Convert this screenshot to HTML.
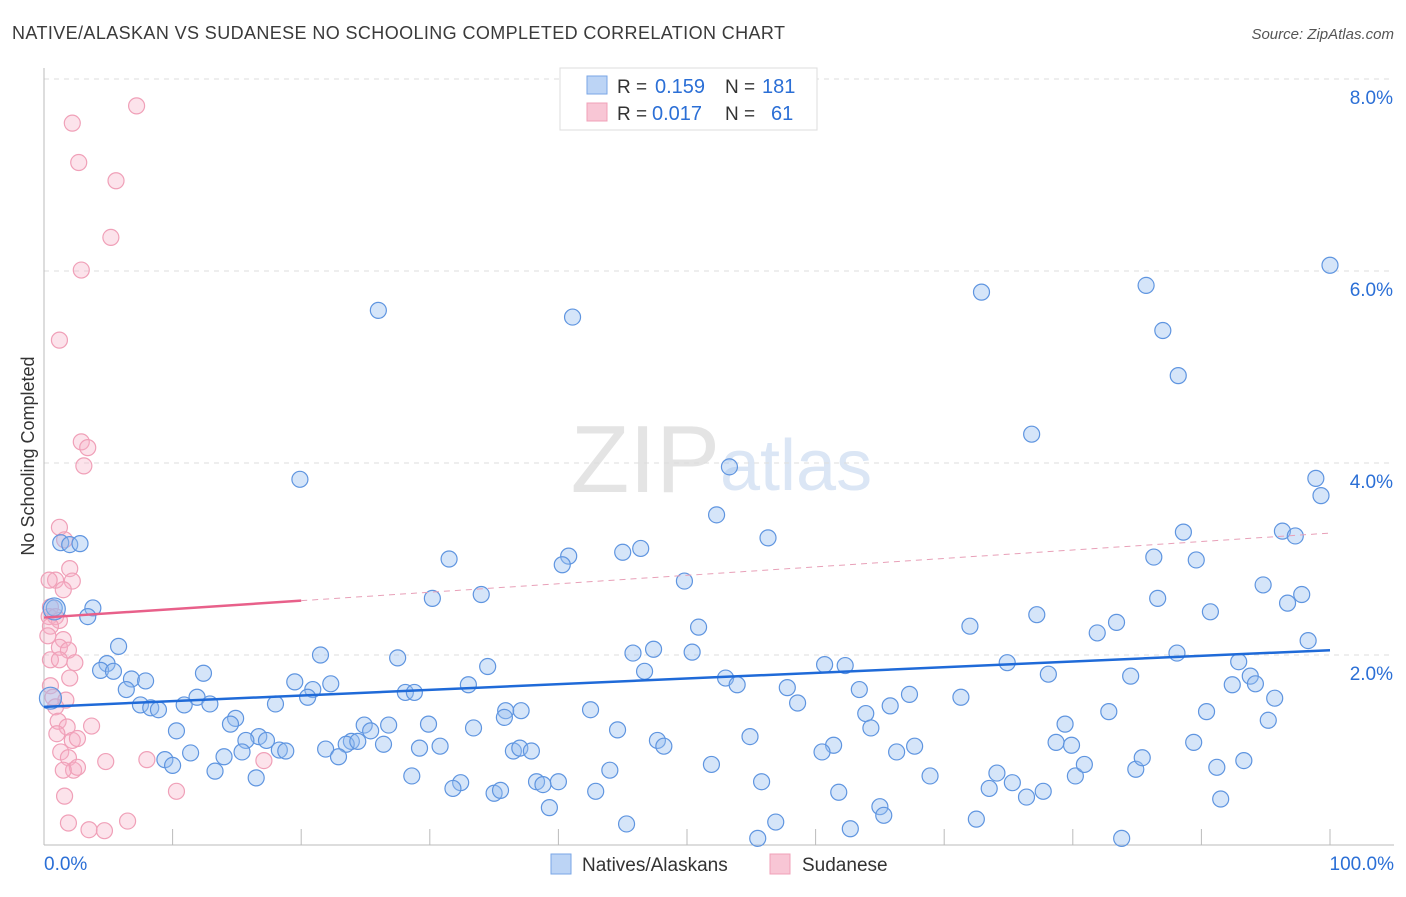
<!DOCTYPE html>
<html><head><meta charset="utf-8"><style>
body{margin:0;background:#fff;font-family:"Liberation Sans",sans-serif;}
svg text{font-family:"Liberation Sans",sans-serif;}
</style></head><body>
<svg id="chart" width="1406" height="892" xmlns="http://www.w3.org/2000/svg">
<text x="12" y="39" font-size="18" fill="#3a3a3a" textLength="773" lengthAdjust="spacing">NATIVE/ALASKAN VS SUDANESE NO SCHOOLING COMPLETED CORRELATION CHART</text>
<text x="1394" y="39" font-size="15" fill="#555" text-anchor="end" font-style="italic">Source: ZipAtlas.com</text>
<text x="720" y="492" font-size="96" fill="#e4e4e4" text-anchor="end" font-family="Liberation Serif">ZIP</text>
<text x="720" y="490" font-size="72" fill="#dbe6f5">atlas</text>
<text transform="translate(34,456) rotate(-90)" font-size="18" fill="#333" text-anchor="middle">No Schooling Completed</text>
<g id="grid"></g><g id="axes"></g><g id="marks"></g><g id="trends"></g>
<g>
<rect x="560" y="68" width="257" height="62" fill="#fff" stroke="#ddd"/>
<rect x="587" y="76" width="20" height="18" fill="#bcd4f5" stroke="#7aa6e6"/>
<rect x="587" y="103" width="20" height="18" fill="#f8c6d5" stroke="#f0a0b8"/>
<text x="617" y="93" font-size="19" fill="#333">R =</text>
<text x="655" y="93" font-size="20" fill="#2b6fd6">0.159</text>
<text x="725" y="93" font-size="19" fill="#333">N =</text>
<text x="762" y="93" font-size="20" fill="#2b6fd6">181</text>
<text x="617" y="120" font-size="19" fill="#333">R =</text>
<text x="652" y="120" font-size="20" fill="#2b6fd6">0.017</text>
<text x="725" y="120" font-size="19" fill="#333">N =</text>
<text x="771" y="120" font-size="20" fill="#2b6fd6">61</text>
</g>
<g>
<rect x="551" y="854" width="20" height="20" fill="#bcd4f5" stroke="#7aa6e6"/>
<text x="582" y="871" font-size="19" fill="#333">Natives/Alaskans</text>
<rect x="770" y="854" width="20" height="20" fill="#f8c6d5" stroke="#f0a0b8"/>
<text x="802" y="871" font-size="19" fill="#333">Sudanese</text>
</g>
</svg>
<script>
const yTicks=[2,4,6,8];
const yTickLabels=["2.0%","4.0%","6.0%","8.0%"];
const xTickLabels=["0.0%","100.0%"];
const blueX=[26.0,41.1,72.9,85.7,100,87.0,88.2,76.8,19.9,53.3,98.9,99.3,52.3,56.3,1.3,2.0,2.8,31.5,40.8,40.3,45.0,46.4,88.6,96.3,97.3,86.3,89.6,49.8,94.8,30.2,34.0,86.6,97.8,96.7,90.7,77.2,3.8,3.4,0.8,72.0,83.4,81.9,50.9,98.3,5.8,21.5,27.5,45.8,47.4,50.4,88.1,92.9,4.9,4.4,5.4,34.5,46.7,60.7,62.3,74.9,78.1,84.5,93.8,12.4,6.8,7.9,6.4,19.5,22.3,20.9,20.5,33.0,28.1,28.8,53.0,53.9,57.8,63.4,67.3,71.3,92.4,94.2,95.7,11.9,7.5,8.3,8.9,10.9,12.9,18.0,35.9,37.1,42.5,58.6,63.9,65.8,82.8,90.4,95.2,14.9,14.5,10.3,24.9,26.8,25.4,29.9,33.4,35.8,44.6,64.3,79.4,16.7,15.7,17.3,23.9,23.5,24.4,26.4,29.2,30.8,21.9,22.9,15.4,11.4,14.0,18.3,18.8,36.5,37.0,37.9,47.7,48.2,54.9,61.4,60.5,66.3,67.7,78.7,79.9,89.4,9.4,10.0,13.3,16.5,51.9,44.0,55.8,28.6,32.4,31.8,38.3,38.8,40.0,35.0,35.5,42.9,61.8,68.9,74.1,73.5,75.3,76.4,77.7,80.2,80.9,84.9,85.4,91.2,93.3,91.5,39.3,45.3,56.9,62.7,65.0,65.3,72.5,55.5,83.8,0.5,0.8];
const blueY=[5.59,5.52,5.78,5.85,6.06,5.38,4.91,4.30,3.83,3.96,3.84,3.66,3.46,3.22,3.17,3.15,3.16,3.00,3.03,2.94,3.07,3.11,3.28,3.29,3.24,3.02,2.99,2.77,2.73,2.59,2.63,2.59,2.63,2.54,2.45,2.42,2.49,2.40,2.49,2.30,2.34,2.23,2.29,2.15,2.09,2.00,1.97,2.02,2.06,2.03,2.02,1.93,1.91,1.84,1.83,1.88,1.83,1.90,1.89,1.92,1.80,1.78,1.78,1.81,1.75,1.73,1.64,1.72,1.70,1.64,1.56,1.69,1.61,1.61,1.76,1.69,1.66,1.64,1.59,1.56,1.69,1.70,1.55,1.56,1.48,1.45,1.43,1.48,1.49,1.49,1.42,1.42,1.43,1.50,1.39,1.47,1.41,1.41,1.32,1.34,1.28,1.21,1.27,1.27,1.21,1.28,1.24,1.35,1.22,1.24,1.28,1.15,1.11,1.11,1.10,1.07,1.10,1.07,1.03,1.05,1.02,0.94,0.99,0.98,0.94,1.01,1.00,1.00,1.03,1.00,1.11,1.05,1.15,1.06,0.99,0.99,1.05,1.09,1.06,1.09,0.91,0.85,0.79,0.72,0.86,0.80,0.68,0.74,0.67,0.61,0.68,0.65,0.68,0.56,0.59,0.58,0.57,0.74,0.77,0.61,0.67,0.52,0.58,0.74,0.86,0.81,0.93,0.83,0.90,0.50,0.41,0.24,0.26,0.19,0.42,0.33,0.29,0.09,0.09,1.55,2.48];
const pinkX=[7.2,2.2,2.7,5.6,5.2,2.9,1.2,2.9,3.4,3.1,1.2,1.6,2.0,0.9,2.2,0.4,1.5,0.5,0.4,0.9,1.2,0.5,1.5,0.3,1.2,1.9,0.5,1.2,2.4,2.0,0.5,0.7,1.7,0.9,1.1,1.8,3.7,1.0,2.2,2.6,1.3,1.9,2.3,2.6,4.8,8.0,17.1,10.3,1.6,1.9,3.5,4.7,6.5,1.5];
const pinkY=[7.72,7.54,7.13,6.94,6.35,6.01,5.28,4.22,4.16,3.97,3.33,3.20,2.90,2.78,2.77,2.78,2.68,2.50,2.40,2.40,2.36,2.30,2.16,2.20,2.08,2.05,1.95,1.95,1.92,1.76,1.68,1.56,1.53,1.46,1.31,1.25,1.26,1.18,1.11,1.13,0.99,0.93,0.80,0.83,0.89,0.91,0.90,0.58,0.53,0.25,0.18,0.17,0.27,0.80];
const blueTrend=[1.46,2.05];
const pinkTrend=[2.39,3.27];
const pinkSolidEnd=[20];
const NS="http://www.w3.org/2000/svg";
const X0=44,X1=1330,Y0=847,PPY=96;
const sx=v=>X0+(X1-X0)*v/100, sy=v=>Y0-v*PPY;
function mk(t,a,p,name){const e=document.createElementNS(NS,t);for(const k in a)e.setAttribute(k,a[k]);


p.appendChild(e);return e;}
const g=document.getElementById('grid'),ax=document.getElementById('axes'),mg=document.getElementById('marks'),tg=document.getElementById('trends');
yTicks.forEach((v,i)=>{mk('line',{x1:X0,x2:1394,y1:sy(v),y2:sy(v),stroke:'#ddd','stroke-dasharray':'5,5'},g,'gridline');
const t=mk('text',{x:1393,y:sy(v)+25,'font-size':19,fill:'#2b6fd6','text-anchor':'end'},ax,'y-tick-label');t.textContent=yTickLabels[i];});
mk('line',{x1:X0,x2:X0,y1:68,y2:845,stroke:'#bbb'},ax,'y-axis-line');
mk('line',{x1:X0,x2:1394,y1:845,y2:845,stroke:'#bbb'},ax,'x-axis-line');
for(let i=0;i<=10;i++)mk('line',{x1:sx(i*10),x2:sx(i*10),y1:829,y2:845,stroke:'#bbb'},ax,'x-tick');
let t=mk('text',{x:44,y:870,'font-size':19,fill:'#2b6fd6'},ax,'x-tick-label');t.textContent=xTickLabels[0];
t=mk('text',{x:1394,y:870,'font-size':19,fill:'#2b6fd6','text-anchor':'end'},ax,'x-tick-label');t.textContent=xTickLabels[1];
pinkX.forEach((x,i)=>mk('circle',{cx:sx(x),cy:sy(pinkY[i]),r:8,fill:'rgba(246,176,198,0.35)',stroke:'#f0a0b8','stroke-width':1.2},mg,'sudanese-point'));
blueX.forEach((x,i)=>mk('circle',{cx:sx(x),cy:sy(blueY[i]),r:(i>=blueX.length-2)?11:8,fill:'rgba(150,190,240,0.4)',stroke:'#5f95e0','stroke-width':1.2},mg,'native-point'));
mk('line',{x1:sx(0),y1:sy(blueTrend[0]),x2:sx(100),y2:sy(blueTrend[1]),stroke:'#1f6ad8','stroke-width':2.5},tg,'native-trend-line');
const pe=pinkSolidEnd[0],pm=pinkTrend[0]+(pinkTrend[1]-pinkTrend[0])*pe/100;
mk('line',{x1:sx(0),y1:sy(pinkTrend[0]),x2:sx(pe),y2:sy(pm),stroke:'#e8608a','stroke-width':2.5},tg,'sudanese-trend-line');
mk('line',{x1:sx(pe),y1:sy(pm),x2:sx(100),y2:sy(pinkTrend[1]),stroke:'#e8a0b8','stroke-width':1,'stroke-dasharray':'6,5'},tg,'sudanese-trend-extension');
</script>
</body></html>
